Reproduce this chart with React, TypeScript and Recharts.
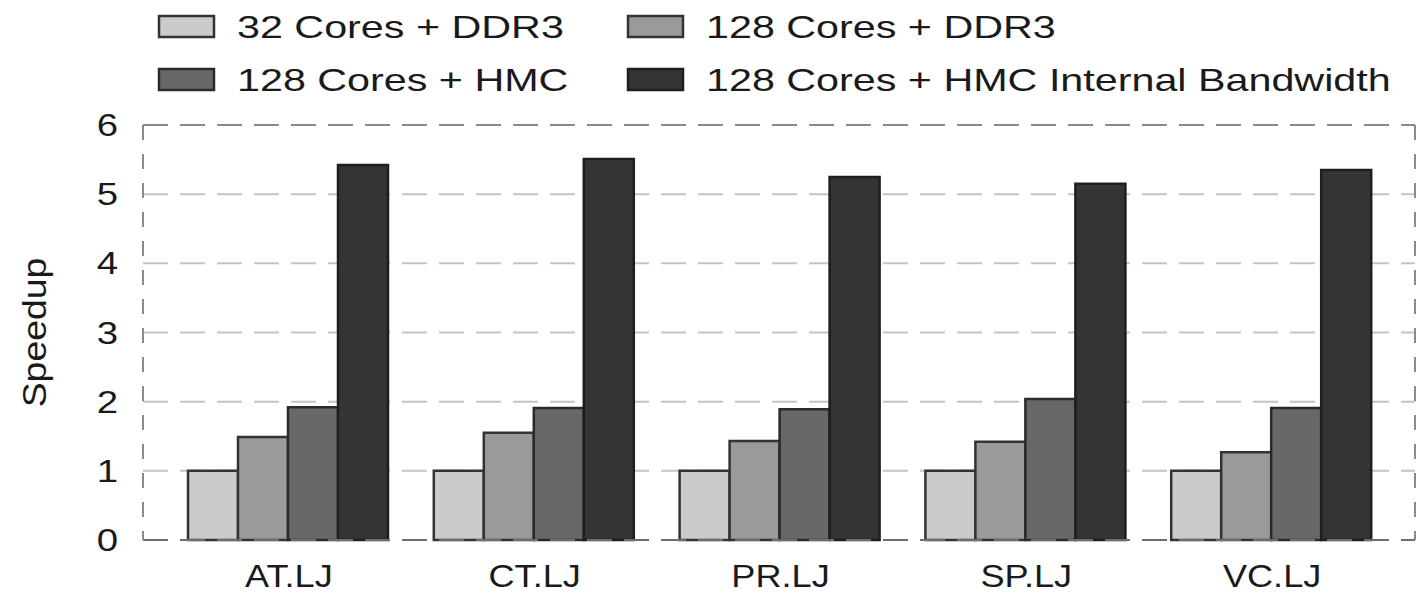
import { Bar, BarChart, CartesianGrid, Legend, ReferenceLine, XAxis, YAxis } from 'recharts';

const categories = ['AT.LJ', 'CT.LJ', 'PR.LJ', 'SP.LJ', 'VC.LJ'];
const seriesNames = [
  '32 Cores + DDR3',
  '128 Cores + DDR3',
  '128 Cores + HMC',
  '128 Cores + HMC Internal Bandwidth',
];
const cores32Ddr3 = [1, 1, 1, 1, 1];
const cores128Ddr3 = [1.49, 1.55, 1.43, 1.42, 1.27];
const cores128Hmc = [1.92, 1.91, 1.89, 2.04, 1.91];
const cores128HmcInternal = [5.42, 5.51, 5.25, 5.15, 5.35];
const yTicks = [0, 1, 2, 3, 4, 5, 6];

const FILLS = ['#cbcbcb', '#9a9a9a', '#686868', '#343434'];
const STROKES = ['#333333', '#333333', '#2a2a2a', '#1e1e1e'];
const FONT = '"Liberation Sans", Arial, Helvetica, sans-serif';

const data = categories.map((name, i) => ({
  name,
  a: cores32Ddr3[i],
  b: cores128Ddr3[i],
  c: cores128Hmc[i],
  d: cores128HmcInternal[i],
}));

// Source text is rendered noticeably wider than plain Arial, so stretch it.
function LegendBox() {
  return (
    <svg width={1417} height={125} style={{ display: 'block' }}>
      {seriesNames.map((name, i) => {
        const col = i % 2;
        const row = Math.floor(i / 2);
        const x = 158 + col * 469;
        const y = 15 + row * 53;
        return (
          <g key={name}>
            <rect x={x + 1} y={y + 1} width={55} height={21} fill={FILLS[i]} stroke={STROKES[i]} strokeWidth={2.5} />
            <text
              transform={`translate(${x + 79},${y + 23}) scale(1.29,1)`}
              fontFamily={FONT}
              fontSize={32}
              fill="#1a1a1a"
            >
              {name}
            </text>
          </g>
        );
      })}
    </svg>
  );
}

function YTick(props: any) {
  const { x, y, payload } = props;
  return (
    <text
      transform={`translate(${x},${y + 11}) scale(1.2,1)`}
      textAnchor="end"
      fontFamily={FONT}
      fontSize={32}
      fill="#1a1a1a"
    >
      {payload.value}
    </text>
  );
}

function XTick(props: any) {
  const { x, y, payload } = props;
  return (
    <text
      transform={`translate(${x},${y + 47}) scale(1.13,1)`}
      textAnchor="middle"
      fontFamily={FONT}
      fontSize={32}
      fill="#1a1a1a"
    >
      {payload.value}
    </text>
  );
}

function YLabel(props: any) {
  const vb = props.viewBox || { x: 0, y: 0, height: 0 };
  const cy = vb.y + vb.height / 2;
  return (
    <text
      transform={`translate(${vb.x + 46},${cy}) rotate(-90) scale(1.1,1)`}
      textAnchor="middle"
      fontFamily={FONT}
      fontSize={34}
      fill="#1a1a1a"
    >
      Speedup
    </text>
  );
}

export default function App() {
  return (
    <div style={{ position: 'absolute', left: 0, top: 0, width: 1417, height: 594, background: '#fff' }}>
      <BarChart
        width={1417}
        height={594}
        data={data}
        margin={{ top: 0, right: 1, bottom: 0, left: 0 }}
        barCategoryGap={22}
        barGap={0}
      >
        <Legend verticalAlign="top" align="left" wrapperStyle={{ left: 0, top: 0 }} content={() => <LegendBox />} />
        <CartesianGrid vertical={false} stroke="#c4c4c4" strokeWidth={2} strokeDasharray="25 12" />
        <XAxis
          dataKey="name"
          axisLine={false}
          tickLine={false}
          tickSize={0}
          tickMargin={0}
          height={54}
          padding={{ left: 23, right: 20 }}
          tick={<XTick />}
          interval={0}
        />
        <YAxis
          domain={[0, 6]}
          ticks={yTicks}
          width={143}
          tickSize={0}
          tickMargin={25}
          tickLine={false}
          axisLine={{ stroke: '#8a8a8a', strokeWidth: 2, strokeDasharray: '15 14' }}
          tick={<YTick />}
          label={{ value: 'Speedup', content: (p: any) => <YLabel {...p} /> }}
        />
        <YAxis
          yAxisId="right"
          orientation="right"
          domain={[0, 6]}
          width={1}
          tick={false}
          tickLine={false}
          axisLine={{ stroke: '#8a8a8a', strokeWidth: 2, strokeDasharray: '15 14' }}
        />
        <Bar dataKey="a" name={seriesNames[0]} fill={FILLS[0]} stroke={STROKES[0]} strokeWidth={2.5} isAnimationActive={false} />
        <Bar dataKey="b" name={seriesNames[1]} fill={FILLS[1]} stroke={STROKES[1]} strokeWidth={2.5} isAnimationActive={false} />
        <Bar dataKey="c" name={seriesNames[2]} fill={FILLS[2]} stroke={STROKES[2]} strokeWidth={2.5} isAnimationActive={false} />
        <Bar dataKey="d" name={seriesNames[3]} fill={FILLS[3]} stroke={STROKES[3]} strokeWidth={2.5} isAnimationActive={false} />
        <ReferenceLine y={6} stroke="#8a8a8a" strokeWidth={2} strokeDasharray="25 12" />
        <ReferenceLine y={0} stroke="#6e6e6e" strokeWidth={2} strokeDasharray="25 12" />
      </BarChart>
    </div>
  );
}
